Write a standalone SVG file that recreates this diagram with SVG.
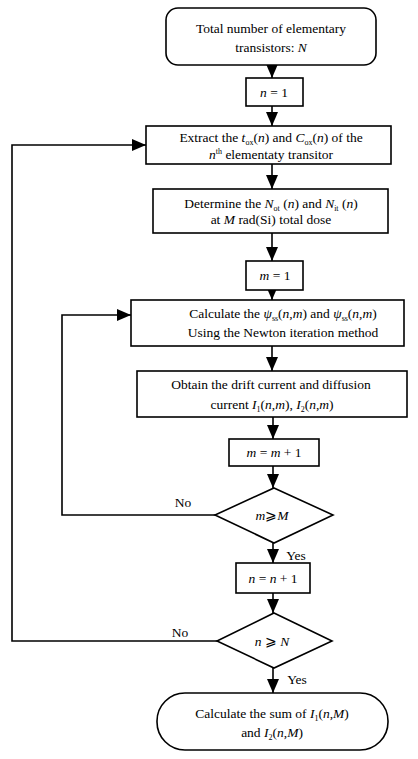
<svg xmlns="http://www.w3.org/2000/svg" width="418" height="759" viewBox="0 0 418 759">
<style>
.b{fill:#fff;stroke:#000;stroke-width:1.6}
.c{fill:none;stroke:#000;stroke-width:1.6}
text{font-family:"Liberation Serif","Times New Roman",serif;font-size:13.5px;fill:#000;text-anchor:middle}
.i{font-style:italic}
.s{font-size:8px}
</style>
<defs>
<marker id="ad" viewBox="0 0 14 12" refX="14" refY="6" markerWidth="14" markerHeight="12" markerUnits="userSpaceOnUse" orient="auto">
<path d="M0,0 L14,6 L0,12 Z" fill="#000"/>
</marker>
</defs>
<rect width="418" height="759" fill="#fff"/>
<g id="connectors">
<line class="c" x1="272" y1="65" x2="272" y2="78" marker-end="url(#ad)"/>
<line class="c" x1="272" y1="106" x2="272" y2="126" marker-end="url(#ad)"/>
<line class="c" x1="272" y1="164" x2="272" y2="189" marker-end="url(#ad)"/>
<line class="c" x1="272" y1="233" x2="272" y2="261" marker-end="url(#ad)"/>
<line class="c" x1="272" y1="290" x2="272" y2="300" marker-end="url(#ad)"/>
<line class="c" x1="272" y1="346" x2="272" y2="371" marker-end="url(#ad)"/>
<line class="c" x1="273" y1="417" x2="273" y2="439" marker-end="url(#ad)"/>
<line class="c" x1="273" y1="466" x2="273" y2="488" marker-end="url(#ad)"/>
<line class="c" x1="273" y1="543" x2="273" y2="563" marker-end="url(#ad)"/>
<line class="c" x1="273" y1="593" x2="273" y2="613" marker-end="url(#ad)"/>
<line class="c" x1="273" y1="668" x2="273" y2="693" marker-end="url(#ad)"/>
<polyline class="c" points="215,515 62,515 62,315 131,315" marker-end="url(#ad)"/>
<polyline class="c" points="217,641 12,641 12,145 146,145" marker-end="url(#ad)"/>
<text x="183" y="507">No</text>
<text x="180" y="637">No</text>
<text x="296" y="560">Yes</text>
<text x="297" y="684">Yes</text>
</g>
<g id="start">
<rect class="b" x="166" y="8" width="210" height="57" rx="12"/>
<text x="271" y="33">Total number of elementary</text>
<text x="271" y="52">transistors: <tspan class="i">N</tspan></text>
</g>
<g id="n1">
<rect class="b" x="246" y="78" width="57" height="28"/>
<text x="274" y="97"><tspan class="i">n</tspan> = 1</text>
</g>
<g id="extract">
<rect class="b" x="146" y="126" width="245" height="38"/>
<text x="271" y="142">Extract the <tspan class="i">t</tspan><tspan class="s" dy="3">ox</tspan><tspan dy="-3">(</tspan><tspan class="i">n</tspan>) and <tspan class="i">C</tspan><tspan class="s" dy="3">ox</tspan><tspan dy="-3">(</tspan><tspan class="i">n</tspan>) of the</text>
<text x="271" y="159"><tspan class="i">n</tspan><tspan class="s" dy="-5">th</tspan><tspan dy="5"> elementaty transitor</tspan></text>
</g>
<g id="determine">
<rect class="b" x="153" y="189" width="235" height="44"/>
<text x="271" y="208">Determine the <tspan class="i">N</tspan><tspan class="s" dy="3">ot</tspan><tspan dy="-3"> (</tspan><tspan class="i">n</tspan>) and <tspan class="i">N</tspan><tspan class="s" dy="3">it</tspan><tspan dy="-3"> (</tspan><tspan class="i">n</tspan>)</text>
<text x="271" y="224">at <tspan class="i">M</tspan> rad(Si) total dose</text>
</g>
<g id="m1">
<rect class="b" x="246" y="261" width="57" height="29"/>
<text x="275" y="280"><tspan class="i">m</tspan> = 1</text>
</g>
<g id="calculate">
<rect class="b" x="131" y="300" width="273" height="46"/>
<text x="283" y="318">Calculate the <tspan class="i">ψ</tspan><tspan class="s" dy="3">ss</tspan><tspan dy="-3">(</tspan><tspan class="i">n</tspan>,<tspan class="i">m</tspan>) and <tspan class="i">ψ</tspan><tspan class="s" dy="3">ss</tspan><tspan dy="-3">(</tspan><tspan class="i">n</tspan>,<tspan class="i">m</tspan>)</text>
<text x="283" y="337">Using the Newton iteration method</text>
</g>
<g id="obtain">
<rect class="b" x="137" y="371" width="270" height="46"/>
<text x="271" y="389">Obtain the drift current and diffusion</text>
<text x="272" y="409">current <tspan class="i">I</tspan><tspan class="s" dy="3">1</tspan><tspan dy="-3">(</tspan><tspan class="i">n</tspan>,<tspan class="i">m</tspan>), <tspan class="i">I</tspan><tspan class="s" dy="3">2</tspan><tspan dy="-3">(</tspan><tspan class="i">n</tspan>,<tspan class="i">m</tspan>)</text>
</g>
<g id="minc">
<rect class="b" x="229" y="439" width="90" height="27"/>
<text x="274" y="457"><tspan class="i">m</tspan> = <tspan class="i">m</tspan> + 1</text>
</g>
<g id="mcheck">
<polygon class="b" points="274,488 333,515 274,543 215,515"/>
<text x="272" y="520"><tspan class="i">m</tspan>⩾<tspan class="i">M</tspan></text>
</g>
<g id="ninc">
<rect class="b" x="236" y="563" width="74" height="30"/>
<text x="273" y="583"><tspan class="i">n</tspan> = <tspan class="i">n</tspan> + 1</text>
</g>
<g id="ncheck">
<polygon class="b" points="274,613 332,641 274,668 217,641"/>
<text x="272" y="646"><tspan class="i">n</tspan> ⩾ <tspan class="i">N</tspan></text>
</g>
<g id="end">
<rect class="b" x="157" y="693" width="231" height="57" rx="28"/>
<text x="272" y="718">Calculate the sum of <tspan class="i">I</tspan><tspan class="s" dy="3">1</tspan><tspan dy="-3">(</tspan><tspan class="i">n</tspan>,<tspan class="i">M</tspan>)</text>
<text x="272" y="737">and <tspan class="i">I</tspan><tspan class="s" dy="3">2</tspan><tspan dy="-3">(</tspan><tspan class="i">n</tspan>,<tspan class="i">M</tspan>)</text>
</g>
</svg>
